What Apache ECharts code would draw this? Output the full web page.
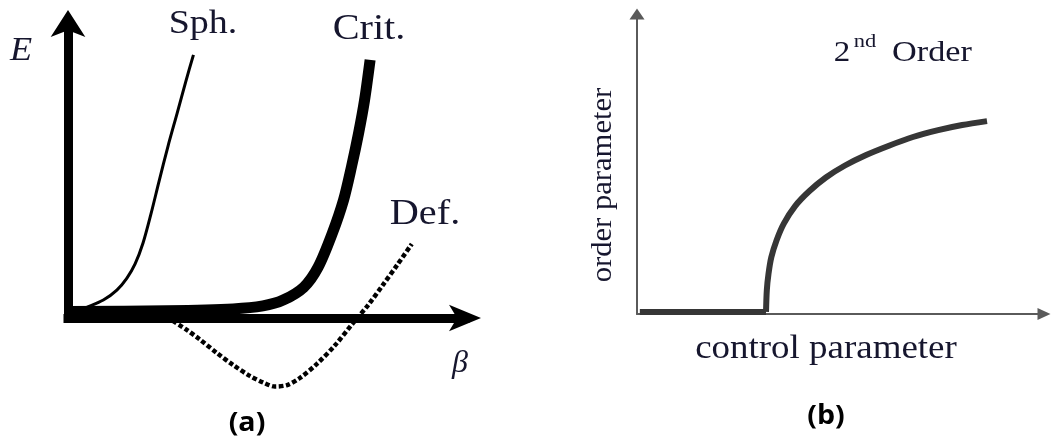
<!DOCTYPE html>
<html>
<head>
<meta charset="utf-8">
<script src="https://cdn.jsdelivr.net/npm/echarts@6/dist/echarts.min.js"></script>
<style>
  html, body { margin: 0; padding: 0; background: #ffffff; }
  #chart { width: 1051px; height: 441px; }
</style>
</head>
<body>
<div id="chart"></div>
<script>
// (a) energy E versus deformation beta: spherical, critical and deformed nuclei
const sphPoints = [[0, 0.1], [0.47, 0.36], [0.89, 0.61], [1.23, 0.95], [1.48, 1.35], [1.69, 1.84],
  [1.89, 2.55], [2.09, 3.54], [2.29, 4.63], [2.52, 5.85], [2.75, 6.97], [2.97, 8.06], [3.16, 8.95]];
const critPoints = [[0, 0.22], [2.49, 0.25], [4.16, 0.31], [4.91, 0.41], [5.42, 0.61], [5.94, 1.05],
  [6.30, 1.73], [6.66, 2.89], [6.94, 4.01], [7.14, 5.14], [7.32, 6.29], [7.47, 7.41], [7.61, 8.78]];
const defPoints = [[2.64, -0.10], [3.00, -0.41], [3.32, -0.73], [3.75, -1.19], [4.16, -1.60],
  [4.58, -1.97], [4.94, -2.21], [5.21, -2.33], [5.52, -2.28], [5.84, -2.04], [6.27, -1.56],
  [6.73, -0.92], [7.18, -0.17], [7.56, 0.44], [7.93, 1.12], [8.29, 1.80], [8.66, 2.52]];
const curveNames = ['Sph.', 'Crit.', 'Def.'];
const axisNamesA = ['E', 'β'];

// (b) order parameter versus control parameter for a second-order transition
const orderFlat = [[0.07, 0.07], [3.17, 0.07]];
const orderRise = [[3.17, 0.07], [3.19, 0.80], [3.23, 1.33], [3.30, 1.89], [3.43, 2.46],
  [3.61, 3.02], [3.88, 3.59], [4.23, 4.09], [4.64, 4.55], [5.11, 4.95], [5.63, 5.30],
  [6.19, 5.61], [6.78, 5.90], [7.40, 6.13], [7.99, 6.30], [8.60, 6.43]];
const axisNamesB = ['order parameter', 'control parameter'];
const transitionLabel = ['2', 'nd', 'Order'];
const panelLabels = ['(a)', '(b)'];

const SERIF = '"Liberation Serif", "DejaVu Serif", serif';
const INK = '#16162e';

function serifText(text, x, y, size, opts) {
  opts = opts || {};
  return {
    type: 'text', x: x, y: y,
    rotation: opts.rotation || 0,
    scaleX: opts.scaleX || 1.15,
    style: {
      text: text, fill: opts.fill || INK,
      font: (opts.italic ? 'italic ' : '') + size + 'px ' + SERIF,
      align: 'center', verticalAlign: 'middle'
    },
    z: 10
  };
}

function hiddenValueAxis(gridIndex, lineOpt) {
  return {
    type: 'value', gridIndex: gridIndex, min: 0, max: 10,
    axisLine: lineOpt,
    axisTick: { show: false }, axisLabel: { show: false }, splitLine: { show: false }
  };
}

const chart = echarts.init(document.getElementById('chart'), null, { renderer: 'canvas' });

// heavy axes of panel (a): arrow heads pushed forward so the tips sit clear of the line caps
const boldAxisX = { show: true, symbol: ['none', 'arrow'], symbolSize: [20, 32], symbolOffset: [0, 16],
  lineStyle: { color: '#000', width: 9, cap: 'square' } };
const boldAxisY = { show: true, symbol: ['none', 'arrow'], symbolSize: [26, 27], symbolOffset: [0, 14],
  lineStyle: { color: '#000', width: 9, cap: 'square' } };
// light axes of panel (b)
const thinAxisX = { show: true, symbol: ['none', 'triangle'], symbolSize: [12, 13],
  lineStyle: { color: '#5a5a5a', width: 2 } };
const thinAxisY = { show: true, symbol: ['none', 'triangle'], symbolSize: [15, 11],
  lineStyle: { color: '#5a5a5a', width: 2 } };

const orderLine = { color: '#363636', width: 6, join: 'round' };

chart.setOption({
  animation: false,
  backgroundColor: '#ffffff',
  grid: [
    { left: 68, top: 24, width: 397, height: 294, outerBoundsMode: 'none' },
    { left: 637, top: 14, width: 407, height: 300, outerBoundsMode: 'none' }
  ],
  xAxis: [hiddenValueAxis(0, boldAxisX), hiddenValueAxis(1, thinAxisX)],
  yAxis: [hiddenValueAxis(0, boldAxisY), hiddenValueAxis(1, thinAxisY)],
  series: [
    {
      name: curveNames[0], type: 'line', xAxisIndex: 0, yAxisIndex: 0,
      data: sphPoints, showSymbol: false, symbol: 'none', smooth: 0.3, clip: false,
      lineStyle: { color: '#000', width: 3, join: 'round' }
    },
    {
      name: curveNames[1], type: 'line', xAxisIndex: 0, yAxisIndex: 0,
      data: critPoints, showSymbol: false, symbol: 'none', smooth: 0.3, clip: false,
      lineStyle: { color: '#000', width: 11, join: 'round' }
    },
    {
      name: curveNames[2], type: 'line', xAxisIndex: 0, yAxisIndex: 0,
      data: defPoints, showSymbol: false, symbol: 'none', smooth: 0.3, clip: false,
      lineStyle: { color: '#000', width: 4.5, type: [4.5, 2.5], cap: 'butt' }
    },
    {
      name: 'flat', type: 'line', xAxisIndex: 1, yAxisIndex: 1,
      data: orderFlat, showSymbol: false, symbol: 'none', clip: false, lineStyle: orderLine
    },
    {
      name: transitionLabel.join(' '), type: 'line', xAxisIndex: 1, yAxisIndex: 1,
      data: orderRise, showSymbol: false, symbol: 'none', smooth: 0.3, clip: false,
      lineStyle: orderLine
    }
  ],
  graphic: [
    serifText(axisNamesA[0], 21, 51, 33, { italic: true, scaleX: 1.1 }),
    serifText(axisNamesA[1], 460, 364, 32, { italic: true, scaleX: 1.0 }),
    serifText(curveNames[0], 203, 24, 33),
    serifText(curveNames[1], 369, 30, 35),
    serifText(curveNames[2], 425, 215, 35),
    serifText(transitionLabel[0], 842, 53, 30, { scaleX: 1.1 }),
    serifText(transitionLabel[1], 865, 42, 18, { scaleX: 1.25 }),
    serifText(transitionLabel[2], 932, 53, 30, { scaleX: 1.14 }),
    serifText(axisNamesB[1], 826, 349, 33, { scaleX: 1.12 }),
    serifText(axisNamesB[0], 603, 185, 30, { rotation: Math.PI / 2, scaleX: 1.02 }),
    {
      type: 'text', x: 247, y: 424, scaleX: 1.1,
      style: { text: panelLabels[0], fill: '#000', font: 'bold 26px "Open Sans", sans-serif',
        align: 'center', verticalAlign: 'middle' }
    },
    {
      type: 'text', x: 826, y: 417, scaleX: 1.1,
      style: { text: panelLabels[1], fill: '#000', font: 'bold 26px "Open Sans", sans-serif',
        align: 'center', verticalAlign: 'middle' }
    }
  ]
});
</script>
</body>
</html>
